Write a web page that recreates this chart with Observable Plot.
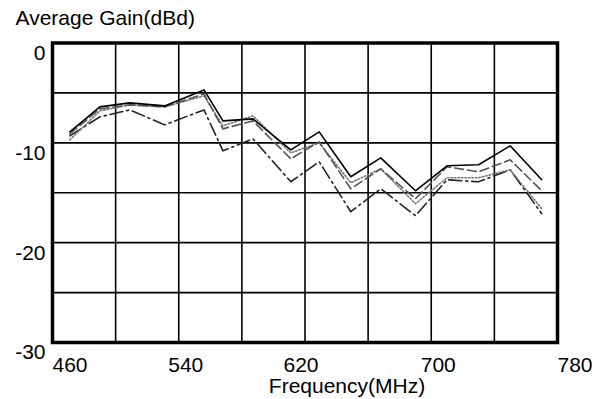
<!DOCTYPE html>
<html><head><meta charset="utf-8">
<script src="https://cdn.jsdelivr.net/npm/d3@7"></script>
<script src="https://cdn.jsdelivr.net/npm/@observablehq/plot@0.6"></script>
<style>body{margin:0;background:#fff}</style>
</head><body><div id="chart"></div>
<script>
// Frequency (MHz) of each measured point
const freq = [471, 490, 509, 531, 556, 568, 587, 611, 629, 649, 668, 690, 710, 730, 750, 770];
// Average gain (dBd) of the four curves
const gainSolid   = [-8.9, -6.4, -6.0, -6.3, -4.7, -7.8, -7.6, -10.7, -8.9, -13.4, -11.5, -14.8, -12.3, -12.2, -10.3, -13.7];
const gainDashed  = [-9.1, -6.6, -6.2, -6.4, -5.1, -8.6, -7.8, -11.6, -9.9, -14.6, -12.6, -15.6, -12.4, -12.9, -11.7, -14.8];
const gainDotted  = [-9.7, -6.8, -6.2, -6.4, -5.3, -8.3, -7.3, -11.0, -10.0, -14.0, -12.6, -16.1, -13.5, -13.5, -12.7, -16.6];
const gainDashDot = [-9.3, -7.4, -6.7, -8.2, -6.7, -10.8, -9.6, -13.9, -11.9, -16.9, -14.6, -17.3, -13.7, -13.9, -12.7, -17.1];

const xGrid = [500, 540, 580, 620, 660, 700, 740];
const yGrid = [-5, -10, -15, -20, -25];
const xLabelsEdge = [460, 780];
const xLabelsA = [540, 700];
const xLabelsB = [620];
const yLabels = [0, -10, -20, -30];
const title = "Average Gain(dBd)";
const xTitle = "Frequency(MHz)";

const font = "Liberation Sans, Arial, Helvetica, sans-serif";
const fs = 21;
const lineOf = (vals, opts) => Plot.line(vals, {x: (d, i) => freq[i], y: d => d, strokeWidth: 1.6, ...opts});

const chart = Plot.plot({
  width: 602, height: 399,
  marginLeft: 52, marginRight: 45, marginTop: 42.5, marginBottom: 57,
  x: {domain: [460, 780], axis: null},
  y: {domain: [-30, 0], axis: null},
  style: {fontFamily: font, background: "#fff", color: "#000"},
  marks: [
    Plot.ruleX(xGrid, {x: d => d, stroke: "#000", strokeWidth: 1.6}),
    Plot.ruleY(yGrid, {y: d => d, stroke: "#000", strokeWidth: 1.6}),
    lineOf(gainDashDot, {stroke: "#222", strokeDasharray: "13,4,2,4"}),
    lineOf(gainDotted, {stroke: "#777", strokeDasharray: "1.5,2"}),
    lineOf(gainDashed, {stroke: "#555", strokeDasharray: "9,4"}),
    lineOf(gainSolid, {stroke: "#000"}),
    Plot.frame({stroke: "#000", strokeWidth: 3.5}),
    Plot.text(yLabels, {y: d => d, frameAnchor: "left", text: d => String(d), textAnchor: "end", lineAnchor: "top", dx: -7, dy: 2, fontSize: fs, fill: "#000"}),
    Plot.text(xLabelsEdge, {x: d => d, frameAnchor: "bottom", text: d => String(d), textAnchor: "start", lineAnchor: "top", dy: 15, fontSize: fs, fill: "#000"}),
    Plot.text(xLabelsA, {x: d => d, frameAnchor: "bottom", text: d => String(d), lineAnchor: "top", dx: 7, dy: 15, fontSize: fs, fill: "#000"}),
    Plot.text(xLabelsB, {x: d => d, frameAnchor: "bottom", text: d => String(d), lineAnchor: "top", dx: -4, dy: 15, fontSize: fs, fill: "#000"}),
    Plot.text([title], {frameAnchor: "top-left", text: d => d, textAnchor: "start", lineAnchor: "top", dx: -37, dy: -33, fontSize: fs, fill: "#000"}),
    Plot.text([xTitle], {frameAnchor: "bottom", text: d => d, lineAnchor: "top", dx: 42, dy: 36, fontSize: fs, fill: "#000"})
  ]
});
document.getElementById("chart").appendChild(chart);
</script>
</body></html>
